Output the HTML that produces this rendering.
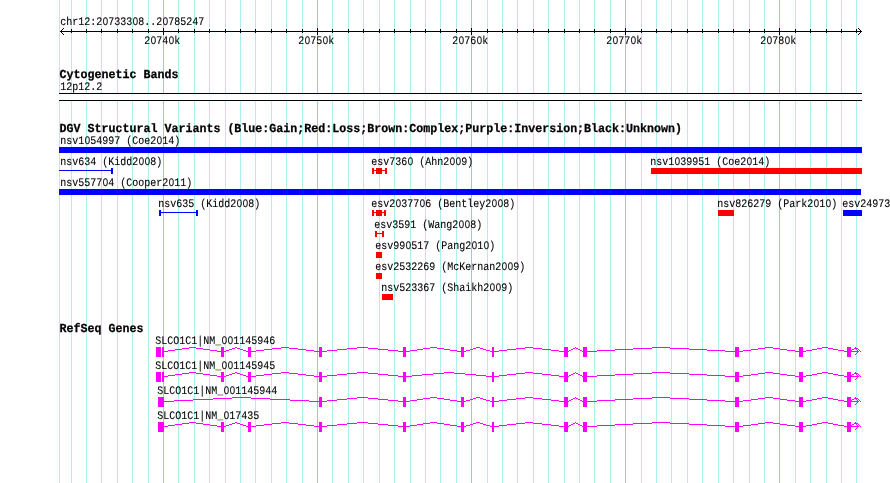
<!DOCTYPE html>
<html><head><meta charset="utf-8"><title>chr12:20733308..20785247</title>
<style>
html,body{margin:0;padding:0;background:#fff;}
body{width:890px;height:483px;overflow:hidden;position:relative;}
svg{position:absolute;left:0;top:0;}
#txt{position:absolute;left:0;top:0;width:890px;height:483px;overflow:hidden;will-change:transform;}
.t{position:absolute;white-space:pre;color:#000;height:20px;line-height:20px;transform-origin:0 12.4px;}
.r{font-family:"Liberation Mono",monospace;font-size:10px;letter-spacing:0px;transform:scale(1,1.15);text-rendering:geometricPrecision;-webkit-text-stroke:0.1px #000;}
.z{font-family:"Liberation Sans",sans-serif;font-size:9.6px;line-height:0;letter-spacing:0;padding:0 0.330px;}
.b{font-family:"Liberation Mono",monospace;font-weight:bold;font-size:11.667px;letter-spacing:0px;transform:scale(1,1.05);text-rendering:geometricPrecision;-webkit-text-stroke:0.25px #000;}
</style></head><body>
<svg width="890" height="483" viewBox="0 0 890 483" shape-rendering="crispEdges">
<rect x="59" y="0" width="1" height="483" fill="#AFEEEE"/>
<rect x="71" y="0" width="1" height="483" fill="#AFEEEE"/>
<rect x="86" y="0" width="1" height="483" fill="#AFEEEE"/>
<rect x="101" y="0" width="1" height="483" fill="#AFEEEE"/>
<rect x="117" y="0" width="1" height="483" fill="#AFEEEE"/>
<rect x="132" y="0" width="1" height="483" fill="#AFEEEE"/>
<rect x="148" y="0" width="1" height="483" fill="#AFEEEE"/>
<rect x="163" y="0" width="1" height="483" fill="#87CEEB"/>
<rect x="178" y="0" width="1" height="483" fill="#AFEEEE"/>
<rect x="194" y="0" width="1" height="483" fill="#AFEEEE"/>
<rect x="209" y="0" width="1" height="483" fill="#AFEEEE"/>
<rect x="225" y="0" width="1" height="483" fill="#AFEEEE"/>
<rect x="240" y="0" width="1" height="483" fill="#AFEEEE"/>
<rect x="255" y="0" width="1" height="483" fill="#AFEEEE"/>
<rect x="271" y="0" width="1" height="483" fill="#AFEEEE"/>
<rect x="286" y="0" width="1" height="483" fill="#AFEEEE"/>
<rect x="302" y="0" width="1" height="483" fill="#AFEEEE"/>
<rect x="317" y="0" width="1" height="483" fill="#87CEEB"/>
<rect x="332" y="0" width="1" height="483" fill="#AFEEEE"/>
<rect x="348" y="0" width="1" height="483" fill="#AFEEEE"/>
<rect x="363" y="0" width="1" height="483" fill="#AFEEEE"/>
<rect x="379" y="0" width="1" height="483" fill="#AFEEEE"/>
<rect x="394" y="0" width="1" height="483" fill="#AFEEEE"/>
<rect x="410" y="0" width="1" height="483" fill="#AFEEEE"/>
<rect x="425" y="0" width="1" height="483" fill="#AFEEEE"/>
<rect x="440" y="0" width="1" height="483" fill="#AFEEEE"/>
<rect x="456" y="0" width="1" height="483" fill="#AFEEEE"/>
<rect x="471" y="0" width="1" height="483" fill="#87CEEB"/>
<rect x="487" y="0" width="1" height="483" fill="#AFEEEE"/>
<rect x="502" y="0" width="1" height="483" fill="#AFEEEE"/>
<rect x="517" y="0" width="1" height="483" fill="#AFEEEE"/>
<rect x="533" y="0" width="1" height="483" fill="#AFEEEE"/>
<rect x="548" y="0" width="1" height="483" fill="#AFEEEE"/>
<rect x="564" y="0" width="1" height="483" fill="#AFEEEE"/>
<rect x="579" y="0" width="1" height="483" fill="#AFEEEE"/>
<rect x="594" y="0" width="1" height="483" fill="#AFEEEE"/>
<rect x="610" y="0" width="1" height="483" fill="#AFEEEE"/>
<rect x="625" y="0" width="1" height="483" fill="#87CEEB"/>
<rect x="641" y="0" width="1" height="483" fill="#AFEEEE"/>
<rect x="656" y="0" width="1" height="483" fill="#AFEEEE"/>
<rect x="671" y="0" width="1" height="483" fill="#AFEEEE"/>
<rect x="687" y="0" width="1" height="483" fill="#AFEEEE"/>
<rect x="702" y="0" width="1" height="483" fill="#AFEEEE"/>
<rect x="718" y="0" width="1" height="483" fill="#AFEEEE"/>
<rect x="733" y="0" width="1" height="483" fill="#AFEEEE"/>
<rect x="749" y="0" width="1" height="483" fill="#AFEEEE"/>
<rect x="764" y="0" width="1" height="483" fill="#AFEEEE"/>
<rect x="779" y="0" width="1" height="483" fill="#87CEEB"/>
<rect x="795" y="0" width="1" height="483" fill="#AFEEEE"/>
<rect x="810" y="0" width="1" height="483" fill="#AFEEEE"/>
<rect x="826" y="0" width="1" height="483" fill="#AFEEEE"/>
<rect x="841" y="0" width="1" height="483" fill="#AFEEEE"/>
<rect x="856" y="0" width="1" height="483" fill="#AFEEEE"/>
<rect x="60" y="31" width="802" height="1" fill="#000"/>
<rect x="71" y="29" width="1" height="4" fill="#000"/>
<rect x="86" y="29" width="1" height="4" fill="#000"/>
<rect x="101" y="29" width="1" height="4" fill="#000"/>
<rect x="117" y="29" width="1" height="4" fill="#000"/>
<rect x="132" y="29" width="1" height="4" fill="#000"/>
<rect x="148" y="29" width="1" height="4" fill="#000"/>
<rect x="163" y="28" width="1" height="7" fill="#000"/>
<rect x="178" y="29" width="1" height="4" fill="#000"/>
<rect x="194" y="29" width="1" height="4" fill="#000"/>
<rect x="209" y="29" width="1" height="4" fill="#000"/>
<rect x="225" y="29" width="1" height="4" fill="#000"/>
<rect x="240" y="29" width="1" height="4" fill="#000"/>
<rect x="255" y="29" width="1" height="4" fill="#000"/>
<rect x="271" y="29" width="1" height="4" fill="#000"/>
<rect x="286" y="29" width="1" height="4" fill="#000"/>
<rect x="302" y="29" width="1" height="4" fill="#000"/>
<rect x="317" y="28" width="1" height="7" fill="#000"/>
<rect x="332" y="29" width="1" height="4" fill="#000"/>
<rect x="348" y="29" width="1" height="4" fill="#000"/>
<rect x="363" y="29" width="1" height="4" fill="#000"/>
<rect x="379" y="29" width="1" height="4" fill="#000"/>
<rect x="394" y="29" width="1" height="4" fill="#000"/>
<rect x="410" y="29" width="1" height="4" fill="#000"/>
<rect x="425" y="29" width="1" height="4" fill="#000"/>
<rect x="440" y="29" width="1" height="4" fill="#000"/>
<rect x="456" y="29" width="1" height="4" fill="#000"/>
<rect x="471" y="28" width="1" height="7" fill="#000"/>
<rect x="487" y="29" width="1" height="4" fill="#000"/>
<rect x="502" y="29" width="1" height="4" fill="#000"/>
<rect x="517" y="29" width="1" height="4" fill="#000"/>
<rect x="533" y="29" width="1" height="4" fill="#000"/>
<rect x="548" y="29" width="1" height="4" fill="#000"/>
<rect x="564" y="29" width="1" height="4" fill="#000"/>
<rect x="579" y="29" width="1" height="4" fill="#000"/>
<rect x="594" y="29" width="1" height="4" fill="#000"/>
<rect x="610" y="29" width="1" height="4" fill="#000"/>
<rect x="625" y="28" width="1" height="7" fill="#000"/>
<rect x="641" y="29" width="1" height="4" fill="#000"/>
<rect x="656" y="29" width="1" height="4" fill="#000"/>
<rect x="671" y="29" width="1" height="4" fill="#000"/>
<rect x="687" y="29" width="1" height="4" fill="#000"/>
<rect x="702" y="29" width="1" height="4" fill="#000"/>
<rect x="718" y="29" width="1" height="4" fill="#000"/>
<rect x="733" y="29" width="1" height="4" fill="#000"/>
<rect x="749" y="29" width="1" height="4" fill="#000"/>
<rect x="764" y="29" width="1" height="4" fill="#000"/>
<rect x="779" y="28" width="1" height="7" fill="#000"/>
<rect x="795" y="29" width="1" height="4" fill="#000"/>
<rect x="810" y="29" width="1" height="4" fill="#000"/>
<rect x="826" y="29" width="1" height="4" fill="#000"/>
<rect x="841" y="29" width="1" height="4" fill="#000"/>
<rect x="856" y="29" width="1" height="4" fill="#000"/>
<rect x="61" y="30" width="1" height="1" fill="#000"/>
<rect x="61" y="32" width="1" height="1" fill="#000"/>
<rect x="860" y="30" width="1" height="1" fill="#000"/>
<rect x="860" y="32" width="1" height="1" fill="#000"/>
<rect x="62" y="29" width="1" height="1" fill="#000"/>
<rect x="62" y="33" width="1" height="1" fill="#000"/>
<rect x="859" y="29" width="1" height="1" fill="#000"/>
<rect x="859" y="33" width="1" height="1" fill="#000"/>
<rect x="63" y="28" width="1" height="1" fill="#000"/>
<rect x="63" y="34" width="1" height="1" fill="#000"/>
<rect x="858" y="28" width="1" height="1" fill="#000"/>
<rect x="858" y="34" width="1" height="1" fill="#000"/>
<rect x="59" y="93" width="803" height="8" fill="#fff"/>
<rect x="59" y="93" width="803" height="1" fill="#000"/>
<rect x="59" y="100" width="803" height="1" fill="#000"/>
<rect x="59" y="147" width="803" height="6" fill="#0000FF"/>
<rect x="59" y="189" width="802" height="6" fill="#0000FF"/>
<rect x="59" y="170" width="54" height="1" fill="#0000FF"/>
<rect x="111" y="168" width="2" height="6" fill="#0000FF"/>
<rect x="159" y="212" width="39" height="1" fill="#0000FF"/>
<rect x="159" y="210" width="2" height="6" fill="#0000FF"/>
<rect x="196" y="210" width="2" height="6" fill="#0000FF"/>
<rect x="372" y="170" width="15" height="1" fill="#FF0000"/>
<rect x="372" y="168" width="2" height="6" fill="#FF0000"/>
<rect x="376" y="168" width="6" height="6" fill="#FF0000"/>
<rect x="385" y="168" width="2" height="6" fill="#FF0000"/>
<rect x="651" y="168" width="211" height="6" fill="#FF0000"/>
<rect x="372" y="212" width="14" height="1" fill="#FF0000"/>
<rect x="372" y="210" width="2" height="6" fill="#FF0000"/>
<rect x="376" y="210" width="6" height="6" fill="#FF0000"/>
<rect x="384" y="210" width="2" height="6" fill="#FF0000"/>
<rect x="718" y="210" width="16" height="6" fill="#FF0000"/>
<rect x="843" y="210" width="19" height="6" fill="#0000FF"/>
<rect x="375" y="233" width="9" height="1" fill="#FF0000"/>
<rect x="375" y="231" width="2" height="6" fill="#FF0000"/>
<rect x="382" y="231" width="2" height="6" fill="#FF0000"/>
<rect x="376" y="252" width="6" height="6" fill="#FF0000"/>
<rect x="376" y="273" width="6" height="6" fill="#FF0000"/>
<rect x="382" y="294" width="11" height="6" fill="#FF0000"/>
<rect x="156" y="347" width="5" height="10" fill="#FF00FF"/>
<rect x="162" y="347" width="2" height="10" fill="#FF00FF"/>
<rect x="164" y="351" width="4" height="1" fill="#FF00FF"/>
<rect x="168" y="350" width="7" height="1" fill="#FF00FF"/>
<rect x="175" y="349" width="7" height="1" fill="#FF00FF"/>
<rect x="182" y="348" width="7" height="1" fill="#FF00FF"/>
<rect x="189" y="347" width="7" height="1" fill="#FF00FF"/>
<rect x="196" y="348" width="7" height="1" fill="#FF00FF"/>
<rect x="203" y="349" width="7" height="1" fill="#FF00FF"/>
<rect x="210" y="350" width="7" height="1" fill="#FF00FF"/>
<rect x="217" y="351" width="4" height="1" fill="#FF00FF"/>
<rect x="221" y="347" width="3" height="10" fill="#FF00FF"/>
<rect x="224" y="351" width="2" height="1" fill="#FF00FF"/>
<rect x="226" y="350" width="3" height="1" fill="#FF00FF"/>
<rect x="229" y="349" width="3" height="1" fill="#FF00FF"/>
<rect x="232" y="348" width="3" height="1" fill="#FF00FF"/>
<rect x="235" y="347" width="2" height="1" fill="#FF00FF"/>
<rect x="237" y="348" width="3" height="1" fill="#FF00FF"/>
<rect x="240" y="349" width="3" height="1" fill="#FF00FF"/>
<rect x="243" y="350" width="3" height="1" fill="#FF00FF"/>
<rect x="246" y="351" width="2" height="1" fill="#FF00FF"/>
<rect x="248" y="347" width="3" height="10" fill="#FF00FF"/>
<rect x="251" y="351" width="5" height="1" fill="#FF00FF"/>
<rect x="256" y="350" width="8" height="1" fill="#FF00FF"/>
<rect x="264" y="349" width="8" height="1" fill="#FF00FF"/>
<rect x="272" y="348" width="9" height="1" fill="#FF00FF"/>
<rect x="281" y="347" width="8" height="1" fill="#FF00FF"/>
<rect x="289" y="348" width="9" height="1" fill="#FF00FF"/>
<rect x="298" y="349" width="8" height="1" fill="#FF00FF"/>
<rect x="306" y="350" width="8" height="1" fill="#FF00FF"/>
<rect x="314" y="351" width="5" height="1" fill="#FF00FF"/>
<rect x="319" y="347" width="3" height="10" fill="#FF00FF"/>
<rect x="322" y="351" width="5" height="1" fill="#FF00FF"/>
<rect x="327" y="350" width="10" height="1" fill="#FF00FF"/>
<rect x="337" y="349" width="10" height="1" fill="#FF00FF"/>
<rect x="347" y="348" width="10" height="1" fill="#FF00FF"/>
<rect x="357" y="347" width="11" height="1" fill="#FF00FF"/>
<rect x="368" y="348" width="10" height="1" fill="#FF00FF"/>
<rect x="378" y="349" width="10" height="1" fill="#FF00FF"/>
<rect x="388" y="350" width="10" height="1" fill="#FF00FF"/>
<rect x="398" y="351" width="5" height="1" fill="#FF00FF"/>
<rect x="403" y="347" width="3" height="10" fill="#FF00FF"/>
<rect x="406" y="351" width="4" height="1" fill="#FF00FF"/>
<rect x="410" y="350" width="7" height="1" fill="#FF00FF"/>
<rect x="417" y="349" width="6" height="1" fill="#FF00FF"/>
<rect x="423" y="348" width="7" height="1" fill="#FF00FF"/>
<rect x="430" y="347" width="7" height="1" fill="#FF00FF"/>
<rect x="437" y="348" width="7" height="1" fill="#FF00FF"/>
<rect x="444" y="349" width="6" height="1" fill="#FF00FF"/>
<rect x="450" y="350" width="7" height="1" fill="#FF00FF"/>
<rect x="457" y="351" width="4" height="1" fill="#FF00FF"/>
<rect x="461" y="347" width="3" height="10" fill="#FF00FF"/>
<rect x="464" y="351" width="2" height="1" fill="#FF00FF"/>
<rect x="466" y="350" width="4" height="1" fill="#FF00FF"/>
<rect x="470" y="349" width="3" height="1" fill="#FF00FF"/>
<rect x="473" y="348" width="3" height="1" fill="#FF00FF"/>
<rect x="476" y="347" width="4" height="1" fill="#FF00FF"/>
<rect x="480" y="348" width="3" height="1" fill="#FF00FF"/>
<rect x="483" y="349" width="3" height="1" fill="#FF00FF"/>
<rect x="486" y="350" width="4" height="1" fill="#FF00FF"/>
<rect x="490" y="351" width="2" height="1" fill="#FF00FF"/>
<rect x="492" y="347" width="2" height="10" fill="#FF00FF"/>
<rect x="494" y="351" width="5" height="1" fill="#FF00FF"/>
<rect x="499" y="350" width="8" height="1" fill="#FF00FF"/>
<rect x="507" y="349" width="9" height="1" fill="#FF00FF"/>
<rect x="516" y="348" width="9" height="1" fill="#FF00FF"/>
<rect x="525" y="347" width="8" height="1" fill="#FF00FF"/>
<rect x="533" y="348" width="9" height="1" fill="#FF00FF"/>
<rect x="542" y="349" width="9" height="1" fill="#FF00FF"/>
<rect x="551" y="350" width="8" height="1" fill="#FF00FF"/>
<rect x="559" y="351" width="5" height="1" fill="#FF00FF"/>
<rect x="564" y="347" width="4" height="10" fill="#FF00FF"/>
<rect x="568" y="351" width="1" height="1" fill="#FF00FF"/>
<rect x="569" y="350" width="2" height="1" fill="#FF00FF"/>
<rect x="571" y="349" width="2" height="1" fill="#FF00FF"/>
<rect x="573" y="348" width="2" height="1" fill="#FF00FF"/>
<rect x="575" y="347" width="1" height="1" fill="#FF00FF"/>
<rect x="576" y="348" width="2" height="1" fill="#FF00FF"/>
<rect x="578" y="349" width="2" height="1" fill="#FF00FF"/>
<rect x="580" y="350" width="2" height="1" fill="#FF00FF"/>
<rect x="582" y="351" width="1" height="1" fill="#FF00FF"/>
<rect x="583" y="347" width="4" height="10" fill="#FF00FF"/>
<rect x="587" y="351" width="10" height="1" fill="#FF00FF"/>
<rect x="597" y="350" width="18" height="1" fill="#FF00FF"/>
<rect x="615" y="349" width="18" height="1" fill="#FF00FF"/>
<rect x="633" y="348" width="19" height="1" fill="#FF00FF"/>
<rect x="652" y="347" width="18" height="1" fill="#FF00FF"/>
<rect x="670" y="348" width="19" height="1" fill="#FF00FF"/>
<rect x="689" y="349" width="18" height="1" fill="#FF00FF"/>
<rect x="707" y="350" width="18" height="1" fill="#FF00FF"/>
<rect x="725" y="351" width="10" height="1" fill="#FF00FF"/>
<rect x="735" y="347" width="4" height="10" fill="#FF00FF"/>
<rect x="739" y="351" width="4" height="1" fill="#FF00FF"/>
<rect x="743" y="350" width="8" height="1" fill="#FF00FF"/>
<rect x="751" y="349" width="7" height="1" fill="#FF00FF"/>
<rect x="758" y="348" width="7" height="1" fill="#FF00FF"/>
<rect x="765" y="347" width="8" height="1" fill="#FF00FF"/>
<rect x="773" y="348" width="7" height="1" fill="#FF00FF"/>
<rect x="780" y="349" width="7" height="1" fill="#FF00FF"/>
<rect x="787" y="350" width="8" height="1" fill="#FF00FF"/>
<rect x="795" y="351" width="4" height="1" fill="#FF00FF"/>
<rect x="799" y="347" width="4" height="10" fill="#FF00FF"/>
<rect x="803" y="351" width="3" height="1" fill="#FF00FF"/>
<rect x="806" y="350" width="6" height="1" fill="#FF00FF"/>
<rect x="812" y="349" width="5" height="1" fill="#FF00FF"/>
<rect x="817" y="348" width="5" height="1" fill="#FF00FF"/>
<rect x="822" y="347" width="6" height="1" fill="#FF00FF"/>
<rect x="828" y="348" width="5" height="1" fill="#FF00FF"/>
<rect x="833" y="349" width="5" height="1" fill="#FF00FF"/>
<rect x="838" y="350" width="6" height="1" fill="#FF00FF"/>
<rect x="844" y="351" width="3" height="1" fill="#FF00FF"/>
<rect x="847" y="347" width="4" height="10" fill="#FF00FF"/>
<rect x="851" y="351" width="8" height="1" fill="#FF00FF"/>
<rect x="857" y="350" width="1" height="1" fill="#FF00FF"/>
<rect x="857" y="352" width="1" height="1" fill="#FF00FF"/>
<rect x="856" y="349" width="1" height="1" fill="#FF00FF"/>
<rect x="856" y="353" width="1" height="1" fill="#FF00FF"/>
<rect x="855" y="348" width="1" height="1" fill="#FF00FF"/>
<rect x="855" y="354" width="1" height="1" fill="#FF00FF"/>
<rect x="851" y="350" width="1" height="1" fill="#FF00FF"/>
<rect x="852" y="349" width="1" height="1" fill="#FF00FF"/>
<rect x="853" y="349" width="1" height="1" fill="#FF00FF"/>
<rect x="854" y="348" width="1" height="1" fill="#FF00FF"/>
<rect x="855" y="347" width="1" height="1" fill="#FF00FF"/>
<rect x="856" y="348" width="1" height="1" fill="#FF00FF"/>
<rect x="857" y="348" width="1" height="1" fill="#FF00FF"/>
<rect x="858" y="349" width="1" height="1" fill="#FF00FF"/>
<rect x="859" y="350" width="1" height="1" fill="#FF00FF"/>
<rect x="860" y="351" width="1" height="1" fill="#FF00FF"/>
<rect x="156" y="372" width="5" height="10" fill="#FF00FF"/>
<rect x="162" y="372" width="2" height="10" fill="#FF00FF"/>
<rect x="164" y="376" width="4" height="1" fill="#FF00FF"/>
<rect x="168" y="375" width="7" height="1" fill="#FF00FF"/>
<rect x="175" y="374" width="7" height="1" fill="#FF00FF"/>
<rect x="182" y="373" width="7" height="1" fill="#FF00FF"/>
<rect x="189" y="372" width="7" height="1" fill="#FF00FF"/>
<rect x="196" y="373" width="7" height="1" fill="#FF00FF"/>
<rect x="203" y="374" width="7" height="1" fill="#FF00FF"/>
<rect x="210" y="375" width="7" height="1" fill="#FF00FF"/>
<rect x="217" y="376" width="4" height="1" fill="#FF00FF"/>
<rect x="221" y="372" width="3" height="10" fill="#FF00FF"/>
<rect x="224" y="376" width="2" height="1" fill="#FF00FF"/>
<rect x="226" y="375" width="3" height="1" fill="#FF00FF"/>
<rect x="229" y="374" width="3" height="1" fill="#FF00FF"/>
<rect x="232" y="373" width="3" height="1" fill="#FF00FF"/>
<rect x="235" y="372" width="2" height="1" fill="#FF00FF"/>
<rect x="237" y="373" width="3" height="1" fill="#FF00FF"/>
<rect x="240" y="374" width="3" height="1" fill="#FF00FF"/>
<rect x="243" y="375" width="3" height="1" fill="#FF00FF"/>
<rect x="246" y="376" width="2" height="1" fill="#FF00FF"/>
<rect x="248" y="372" width="3" height="10" fill="#FF00FF"/>
<rect x="251" y="376" width="5" height="1" fill="#FF00FF"/>
<rect x="256" y="375" width="8" height="1" fill="#FF00FF"/>
<rect x="264" y="374" width="8" height="1" fill="#FF00FF"/>
<rect x="272" y="373" width="9" height="1" fill="#FF00FF"/>
<rect x="281" y="372" width="8" height="1" fill="#FF00FF"/>
<rect x="289" y="373" width="9" height="1" fill="#FF00FF"/>
<rect x="298" y="374" width="8" height="1" fill="#FF00FF"/>
<rect x="306" y="375" width="8" height="1" fill="#FF00FF"/>
<rect x="314" y="376" width="5" height="1" fill="#FF00FF"/>
<rect x="319" y="372" width="3" height="10" fill="#FF00FF"/>
<rect x="322" y="376" width="5" height="1" fill="#FF00FF"/>
<rect x="327" y="375" width="10" height="1" fill="#FF00FF"/>
<rect x="337" y="374" width="10" height="1" fill="#FF00FF"/>
<rect x="347" y="373" width="10" height="1" fill="#FF00FF"/>
<rect x="357" y="372" width="11" height="1" fill="#FF00FF"/>
<rect x="368" y="373" width="10" height="1" fill="#FF00FF"/>
<rect x="378" y="374" width="10" height="1" fill="#FF00FF"/>
<rect x="388" y="375" width="10" height="1" fill="#FF00FF"/>
<rect x="398" y="376" width="5" height="1" fill="#FF00FF"/>
<rect x="403" y="372" width="3" height="10" fill="#FF00FF"/>
<rect x="406" y="376" width="6" height="1" fill="#FF00FF"/>
<rect x="412" y="375" width="10" height="1" fill="#FF00FF"/>
<rect x="422" y="374" width="11" height="1" fill="#FF00FF"/>
<rect x="433" y="373" width="11" height="1" fill="#FF00FF"/>
<rect x="444" y="372" width="10" height="1" fill="#FF00FF"/>
<rect x="454" y="373" width="11" height="1" fill="#FF00FF"/>
<rect x="465" y="374" width="11" height="1" fill="#FF00FF"/>
<rect x="476" y="375" width="10" height="1" fill="#FF00FF"/>
<rect x="486" y="376" width="6" height="1" fill="#FF00FF"/>
<rect x="492" y="372" width="2" height="10" fill="#FF00FF"/>
<rect x="494" y="376" width="5" height="1" fill="#FF00FF"/>
<rect x="499" y="375" width="8" height="1" fill="#FF00FF"/>
<rect x="507" y="374" width="9" height="1" fill="#FF00FF"/>
<rect x="516" y="373" width="9" height="1" fill="#FF00FF"/>
<rect x="525" y="372" width="8" height="1" fill="#FF00FF"/>
<rect x="533" y="373" width="9" height="1" fill="#FF00FF"/>
<rect x="542" y="374" width="9" height="1" fill="#FF00FF"/>
<rect x="551" y="375" width="8" height="1" fill="#FF00FF"/>
<rect x="559" y="376" width="5" height="1" fill="#FF00FF"/>
<rect x="564" y="372" width="4" height="10" fill="#FF00FF"/>
<rect x="568" y="376" width="1" height="1" fill="#FF00FF"/>
<rect x="569" y="375" width="2" height="1" fill="#FF00FF"/>
<rect x="571" y="374" width="2" height="1" fill="#FF00FF"/>
<rect x="573" y="373" width="2" height="1" fill="#FF00FF"/>
<rect x="575" y="372" width="1" height="1" fill="#FF00FF"/>
<rect x="576" y="373" width="2" height="1" fill="#FF00FF"/>
<rect x="578" y="374" width="2" height="1" fill="#FF00FF"/>
<rect x="580" y="375" width="2" height="1" fill="#FF00FF"/>
<rect x="582" y="376" width="1" height="1" fill="#FF00FF"/>
<rect x="583" y="372" width="4" height="10" fill="#FF00FF"/>
<rect x="587" y="376" width="10" height="1" fill="#FF00FF"/>
<rect x="597" y="375" width="18" height="1" fill="#FF00FF"/>
<rect x="615" y="374" width="18" height="1" fill="#FF00FF"/>
<rect x="633" y="373" width="19" height="1" fill="#FF00FF"/>
<rect x="652" y="372" width="18" height="1" fill="#FF00FF"/>
<rect x="670" y="373" width="19" height="1" fill="#FF00FF"/>
<rect x="689" y="374" width="18" height="1" fill="#FF00FF"/>
<rect x="707" y="375" width="18" height="1" fill="#FF00FF"/>
<rect x="725" y="376" width="10" height="1" fill="#FF00FF"/>
<rect x="735" y="372" width="4" height="10" fill="#FF00FF"/>
<rect x="739" y="376" width="4" height="1" fill="#FF00FF"/>
<rect x="743" y="375" width="8" height="1" fill="#FF00FF"/>
<rect x="751" y="374" width="7" height="1" fill="#FF00FF"/>
<rect x="758" y="373" width="7" height="1" fill="#FF00FF"/>
<rect x="765" y="372" width="8" height="1" fill="#FF00FF"/>
<rect x="773" y="373" width="7" height="1" fill="#FF00FF"/>
<rect x="780" y="374" width="7" height="1" fill="#FF00FF"/>
<rect x="787" y="375" width="8" height="1" fill="#FF00FF"/>
<rect x="795" y="376" width="4" height="1" fill="#FF00FF"/>
<rect x="799" y="372" width="4" height="10" fill="#FF00FF"/>
<rect x="803" y="376" width="3" height="1" fill="#FF00FF"/>
<rect x="806" y="375" width="6" height="1" fill="#FF00FF"/>
<rect x="812" y="374" width="5" height="1" fill="#FF00FF"/>
<rect x="817" y="373" width="5" height="1" fill="#FF00FF"/>
<rect x="822" y="372" width="6" height="1" fill="#FF00FF"/>
<rect x="828" y="373" width="5" height="1" fill="#FF00FF"/>
<rect x="833" y="374" width="5" height="1" fill="#FF00FF"/>
<rect x="838" y="375" width="6" height="1" fill="#FF00FF"/>
<rect x="844" y="376" width="3" height="1" fill="#FF00FF"/>
<rect x="847" y="372" width="4" height="10" fill="#FF00FF"/>
<rect x="851" y="376" width="8" height="1" fill="#FF00FF"/>
<rect x="857" y="375" width="1" height="1" fill="#FF00FF"/>
<rect x="857" y="377" width="1" height="1" fill="#FF00FF"/>
<rect x="856" y="374" width="1" height="1" fill="#FF00FF"/>
<rect x="856" y="378" width="1" height="1" fill="#FF00FF"/>
<rect x="855" y="373" width="1" height="1" fill="#FF00FF"/>
<rect x="855" y="379" width="1" height="1" fill="#FF00FF"/>
<rect x="851" y="375" width="1" height="1" fill="#FF00FF"/>
<rect x="852" y="374" width="1" height="1" fill="#FF00FF"/>
<rect x="853" y="374" width="1" height="1" fill="#FF00FF"/>
<rect x="854" y="373" width="1" height="1" fill="#FF00FF"/>
<rect x="855" y="372" width="1" height="1" fill="#FF00FF"/>
<rect x="856" y="373" width="1" height="1" fill="#FF00FF"/>
<rect x="857" y="373" width="1" height="1" fill="#FF00FF"/>
<rect x="858" y="374" width="1" height="1" fill="#FF00FF"/>
<rect x="859" y="375" width="1" height="1" fill="#FF00FF"/>
<rect x="860" y="376" width="1" height="1" fill="#FF00FF"/>
<rect x="158" y="397" width="6" height="10" fill="#FF00FF"/>
<rect x="164" y="401" width="10" height="1" fill="#FF00FF"/>
<rect x="174" y="400" width="19" height="1" fill="#FF00FF"/>
<rect x="193" y="399" width="20" height="1" fill="#FF00FF"/>
<rect x="213" y="398" width="19" height="1" fill="#FF00FF"/>
<rect x="232" y="397" width="19" height="1" fill="#FF00FF"/>
<rect x="251" y="398" width="19" height="1" fill="#FF00FF"/>
<rect x="270" y="399" width="20" height="1" fill="#FF00FF"/>
<rect x="290" y="400" width="19" height="1" fill="#FF00FF"/>
<rect x="309" y="401" width="10" height="1" fill="#FF00FF"/>
<rect x="319" y="397" width="3" height="10" fill="#FF00FF"/>
<rect x="322" y="401" width="5" height="1" fill="#FF00FF"/>
<rect x="327" y="400" width="10" height="1" fill="#FF00FF"/>
<rect x="337" y="399" width="10" height="1" fill="#FF00FF"/>
<rect x="347" y="398" width="10" height="1" fill="#FF00FF"/>
<rect x="357" y="397" width="11" height="1" fill="#FF00FF"/>
<rect x="368" y="398" width="10" height="1" fill="#FF00FF"/>
<rect x="378" y="399" width="10" height="1" fill="#FF00FF"/>
<rect x="388" y="400" width="10" height="1" fill="#FF00FF"/>
<rect x="398" y="401" width="5" height="1" fill="#FF00FF"/>
<rect x="403" y="397" width="3" height="10" fill="#FF00FF"/>
<rect x="406" y="401" width="4" height="1" fill="#FF00FF"/>
<rect x="410" y="400" width="7" height="1" fill="#FF00FF"/>
<rect x="417" y="399" width="6" height="1" fill="#FF00FF"/>
<rect x="423" y="398" width="7" height="1" fill="#FF00FF"/>
<rect x="430" y="397" width="7" height="1" fill="#FF00FF"/>
<rect x="437" y="398" width="7" height="1" fill="#FF00FF"/>
<rect x="444" y="399" width="6" height="1" fill="#FF00FF"/>
<rect x="450" y="400" width="7" height="1" fill="#FF00FF"/>
<rect x="457" y="401" width="4" height="1" fill="#FF00FF"/>
<rect x="461" y="397" width="3" height="10" fill="#FF00FF"/>
<rect x="464" y="401" width="2" height="1" fill="#FF00FF"/>
<rect x="466" y="400" width="4" height="1" fill="#FF00FF"/>
<rect x="470" y="399" width="3" height="1" fill="#FF00FF"/>
<rect x="473" y="398" width="3" height="1" fill="#FF00FF"/>
<rect x="476" y="397" width="4" height="1" fill="#FF00FF"/>
<rect x="480" y="398" width="3" height="1" fill="#FF00FF"/>
<rect x="483" y="399" width="3" height="1" fill="#FF00FF"/>
<rect x="486" y="400" width="4" height="1" fill="#FF00FF"/>
<rect x="490" y="401" width="2" height="1" fill="#FF00FF"/>
<rect x="492" y="397" width="2" height="10" fill="#FF00FF"/>
<rect x="494" y="401" width="5" height="1" fill="#FF00FF"/>
<rect x="499" y="400" width="8" height="1" fill="#FF00FF"/>
<rect x="507" y="399" width="9" height="1" fill="#FF00FF"/>
<rect x="516" y="398" width="9" height="1" fill="#FF00FF"/>
<rect x="525" y="397" width="8" height="1" fill="#FF00FF"/>
<rect x="533" y="398" width="9" height="1" fill="#FF00FF"/>
<rect x="542" y="399" width="9" height="1" fill="#FF00FF"/>
<rect x="551" y="400" width="8" height="1" fill="#FF00FF"/>
<rect x="559" y="401" width="5" height="1" fill="#FF00FF"/>
<rect x="564" y="397" width="4" height="10" fill="#FF00FF"/>
<rect x="568" y="401" width="1" height="1" fill="#FF00FF"/>
<rect x="569" y="400" width="2" height="1" fill="#FF00FF"/>
<rect x="571" y="399" width="2" height="1" fill="#FF00FF"/>
<rect x="573" y="398" width="2" height="1" fill="#FF00FF"/>
<rect x="575" y="397" width="1" height="1" fill="#FF00FF"/>
<rect x="576" y="398" width="2" height="1" fill="#FF00FF"/>
<rect x="578" y="399" width="2" height="1" fill="#FF00FF"/>
<rect x="580" y="400" width="2" height="1" fill="#FF00FF"/>
<rect x="582" y="401" width="1" height="1" fill="#FF00FF"/>
<rect x="583" y="397" width="4" height="10" fill="#FF00FF"/>
<rect x="587" y="401" width="10" height="1" fill="#FF00FF"/>
<rect x="597" y="400" width="18" height="1" fill="#FF00FF"/>
<rect x="615" y="399" width="18" height="1" fill="#FF00FF"/>
<rect x="633" y="398" width="19" height="1" fill="#FF00FF"/>
<rect x="652" y="397" width="18" height="1" fill="#FF00FF"/>
<rect x="670" y="398" width="19" height="1" fill="#FF00FF"/>
<rect x="689" y="399" width="18" height="1" fill="#FF00FF"/>
<rect x="707" y="400" width="18" height="1" fill="#FF00FF"/>
<rect x="725" y="401" width="10" height="1" fill="#FF00FF"/>
<rect x="735" y="397" width="4" height="10" fill="#FF00FF"/>
<rect x="739" y="401" width="4" height="1" fill="#FF00FF"/>
<rect x="743" y="400" width="8" height="1" fill="#FF00FF"/>
<rect x="751" y="399" width="7" height="1" fill="#FF00FF"/>
<rect x="758" y="398" width="7" height="1" fill="#FF00FF"/>
<rect x="765" y="397" width="8" height="1" fill="#FF00FF"/>
<rect x="773" y="398" width="7" height="1" fill="#FF00FF"/>
<rect x="780" y="399" width="7" height="1" fill="#FF00FF"/>
<rect x="787" y="400" width="8" height="1" fill="#FF00FF"/>
<rect x="795" y="401" width="4" height="1" fill="#FF00FF"/>
<rect x="799" y="397" width="4" height="10" fill="#FF00FF"/>
<rect x="803" y="401" width="3" height="1" fill="#FF00FF"/>
<rect x="806" y="400" width="6" height="1" fill="#FF00FF"/>
<rect x="812" y="399" width="5" height="1" fill="#FF00FF"/>
<rect x="817" y="398" width="5" height="1" fill="#FF00FF"/>
<rect x="822" y="397" width="6" height="1" fill="#FF00FF"/>
<rect x="828" y="398" width="5" height="1" fill="#FF00FF"/>
<rect x="833" y="399" width="5" height="1" fill="#FF00FF"/>
<rect x="838" y="400" width="6" height="1" fill="#FF00FF"/>
<rect x="844" y="401" width="3" height="1" fill="#FF00FF"/>
<rect x="847" y="397" width="4" height="10" fill="#FF00FF"/>
<rect x="851" y="401" width="8" height="1" fill="#FF00FF"/>
<rect x="857" y="400" width="1" height="1" fill="#FF00FF"/>
<rect x="857" y="402" width="1" height="1" fill="#FF00FF"/>
<rect x="856" y="399" width="1" height="1" fill="#FF00FF"/>
<rect x="856" y="403" width="1" height="1" fill="#FF00FF"/>
<rect x="855" y="398" width="1" height="1" fill="#FF00FF"/>
<rect x="855" y="404" width="1" height="1" fill="#FF00FF"/>
<rect x="851" y="400" width="1" height="1" fill="#FF00FF"/>
<rect x="852" y="399" width="1" height="1" fill="#FF00FF"/>
<rect x="853" y="399" width="1" height="1" fill="#FF00FF"/>
<rect x="854" y="398" width="1" height="1" fill="#FF00FF"/>
<rect x="855" y="397" width="1" height="1" fill="#FF00FF"/>
<rect x="856" y="398" width="1" height="1" fill="#FF00FF"/>
<rect x="857" y="398" width="1" height="1" fill="#FF00FF"/>
<rect x="858" y="399" width="1" height="1" fill="#FF00FF"/>
<rect x="859" y="400" width="1" height="1" fill="#FF00FF"/>
<rect x="860" y="401" width="1" height="1" fill="#FF00FF"/>
<rect x="158" y="422" width="6" height="10" fill="#FF00FF"/>
<rect x="164" y="426" width="4" height="1" fill="#FF00FF"/>
<rect x="168" y="425" width="7" height="1" fill="#FF00FF"/>
<rect x="175" y="424" width="7" height="1" fill="#FF00FF"/>
<rect x="182" y="423" width="7" height="1" fill="#FF00FF"/>
<rect x="189" y="422" width="7" height="1" fill="#FF00FF"/>
<rect x="196" y="423" width="7" height="1" fill="#FF00FF"/>
<rect x="203" y="424" width="7" height="1" fill="#FF00FF"/>
<rect x="210" y="425" width="7" height="1" fill="#FF00FF"/>
<rect x="217" y="426" width="4" height="1" fill="#FF00FF"/>
<rect x="221" y="422" width="3" height="10" fill="#FF00FF"/>
<rect x="224" y="426" width="2" height="1" fill="#FF00FF"/>
<rect x="226" y="425" width="3" height="1" fill="#FF00FF"/>
<rect x="229" y="424" width="3" height="1" fill="#FF00FF"/>
<rect x="232" y="423" width="3" height="1" fill="#FF00FF"/>
<rect x="235" y="422" width="2" height="1" fill="#FF00FF"/>
<rect x="237" y="423" width="3" height="1" fill="#FF00FF"/>
<rect x="240" y="424" width="3" height="1" fill="#FF00FF"/>
<rect x="243" y="425" width="3" height="1" fill="#FF00FF"/>
<rect x="246" y="426" width="2" height="1" fill="#FF00FF"/>
<rect x="248" y="422" width="3" height="10" fill="#FF00FF"/>
<rect x="251" y="426" width="5" height="1" fill="#FF00FF"/>
<rect x="256" y="425" width="8" height="1" fill="#FF00FF"/>
<rect x="264" y="424" width="8" height="1" fill="#FF00FF"/>
<rect x="272" y="423" width="9" height="1" fill="#FF00FF"/>
<rect x="281" y="422" width="8" height="1" fill="#FF00FF"/>
<rect x="289" y="423" width="9" height="1" fill="#FF00FF"/>
<rect x="298" y="424" width="8" height="1" fill="#FF00FF"/>
<rect x="306" y="425" width="8" height="1" fill="#FF00FF"/>
<rect x="314" y="426" width="5" height="1" fill="#FF00FF"/>
<rect x="319" y="422" width="3" height="10" fill="#FF00FF"/>
<rect x="322" y="426" width="5" height="1" fill="#FF00FF"/>
<rect x="327" y="425" width="10" height="1" fill="#FF00FF"/>
<rect x="337" y="424" width="10" height="1" fill="#FF00FF"/>
<rect x="347" y="423" width="10" height="1" fill="#FF00FF"/>
<rect x="357" y="422" width="11" height="1" fill="#FF00FF"/>
<rect x="368" y="423" width="10" height="1" fill="#FF00FF"/>
<rect x="378" y="424" width="10" height="1" fill="#FF00FF"/>
<rect x="388" y="425" width="10" height="1" fill="#FF00FF"/>
<rect x="398" y="426" width="5" height="1" fill="#FF00FF"/>
<rect x="403" y="422" width="3" height="10" fill="#FF00FF"/>
<rect x="406" y="426" width="4" height="1" fill="#FF00FF"/>
<rect x="410" y="425" width="7" height="1" fill="#FF00FF"/>
<rect x="417" y="424" width="6" height="1" fill="#FF00FF"/>
<rect x="423" y="423" width="7" height="1" fill="#FF00FF"/>
<rect x="430" y="422" width="7" height="1" fill="#FF00FF"/>
<rect x="437" y="423" width="7" height="1" fill="#FF00FF"/>
<rect x="444" y="424" width="6" height="1" fill="#FF00FF"/>
<rect x="450" y="425" width="7" height="1" fill="#FF00FF"/>
<rect x="457" y="426" width="4" height="1" fill="#FF00FF"/>
<rect x="461" y="422" width="3" height="10" fill="#FF00FF"/>
<rect x="464" y="426" width="2" height="1" fill="#FF00FF"/>
<rect x="466" y="425" width="4" height="1" fill="#FF00FF"/>
<rect x="470" y="424" width="3" height="1" fill="#FF00FF"/>
<rect x="473" y="423" width="3" height="1" fill="#FF00FF"/>
<rect x="476" y="422" width="4" height="1" fill="#FF00FF"/>
<rect x="480" y="423" width="3" height="1" fill="#FF00FF"/>
<rect x="483" y="424" width="3" height="1" fill="#FF00FF"/>
<rect x="486" y="425" width="4" height="1" fill="#FF00FF"/>
<rect x="490" y="426" width="2" height="1" fill="#FF00FF"/>
<rect x="492" y="422" width="2" height="10" fill="#FF00FF"/>
<rect x="494" y="426" width="5" height="1" fill="#FF00FF"/>
<rect x="499" y="425" width="8" height="1" fill="#FF00FF"/>
<rect x="507" y="424" width="9" height="1" fill="#FF00FF"/>
<rect x="516" y="423" width="9" height="1" fill="#FF00FF"/>
<rect x="525" y="422" width="8" height="1" fill="#FF00FF"/>
<rect x="533" y="423" width="9" height="1" fill="#FF00FF"/>
<rect x="542" y="424" width="9" height="1" fill="#FF00FF"/>
<rect x="551" y="425" width="8" height="1" fill="#FF00FF"/>
<rect x="559" y="426" width="5" height="1" fill="#FF00FF"/>
<rect x="564" y="422" width="4" height="10" fill="#FF00FF"/>
<rect x="568" y="426" width="1" height="1" fill="#FF00FF"/>
<rect x="569" y="425" width="2" height="1" fill="#FF00FF"/>
<rect x="571" y="424" width="2" height="1" fill="#FF00FF"/>
<rect x="573" y="423" width="2" height="1" fill="#FF00FF"/>
<rect x="575" y="422" width="1" height="1" fill="#FF00FF"/>
<rect x="576" y="423" width="2" height="1" fill="#FF00FF"/>
<rect x="578" y="424" width="2" height="1" fill="#FF00FF"/>
<rect x="580" y="425" width="2" height="1" fill="#FF00FF"/>
<rect x="582" y="426" width="1" height="1" fill="#FF00FF"/>
<rect x="583" y="422" width="4" height="10" fill="#FF00FF"/>
<rect x="587" y="426" width="10" height="1" fill="#FF00FF"/>
<rect x="597" y="425" width="18" height="1" fill="#FF00FF"/>
<rect x="615" y="424" width="18" height="1" fill="#FF00FF"/>
<rect x="633" y="423" width="19" height="1" fill="#FF00FF"/>
<rect x="652" y="422" width="18" height="1" fill="#FF00FF"/>
<rect x="670" y="423" width="19" height="1" fill="#FF00FF"/>
<rect x="689" y="424" width="18" height="1" fill="#FF00FF"/>
<rect x="707" y="425" width="18" height="1" fill="#FF00FF"/>
<rect x="725" y="426" width="10" height="1" fill="#FF00FF"/>
<rect x="735" y="422" width="4" height="10" fill="#FF00FF"/>
<rect x="739" y="426" width="4" height="1" fill="#FF00FF"/>
<rect x="743" y="425" width="8" height="1" fill="#FF00FF"/>
<rect x="751" y="424" width="7" height="1" fill="#FF00FF"/>
<rect x="758" y="423" width="7" height="1" fill="#FF00FF"/>
<rect x="765" y="422" width="8" height="1" fill="#FF00FF"/>
<rect x="773" y="423" width="7" height="1" fill="#FF00FF"/>
<rect x="780" y="424" width="7" height="1" fill="#FF00FF"/>
<rect x="787" y="425" width="8" height="1" fill="#FF00FF"/>
<rect x="795" y="426" width="4" height="1" fill="#FF00FF"/>
<rect x="799" y="422" width="4" height="10" fill="#FF00FF"/>
<rect x="803" y="426" width="3" height="1" fill="#FF00FF"/>
<rect x="806" y="425" width="6" height="1" fill="#FF00FF"/>
<rect x="812" y="424" width="5" height="1" fill="#FF00FF"/>
<rect x="817" y="423" width="5" height="1" fill="#FF00FF"/>
<rect x="822" y="422" width="6" height="1" fill="#FF00FF"/>
<rect x="828" y="423" width="5" height="1" fill="#FF00FF"/>
<rect x="833" y="424" width="5" height="1" fill="#FF00FF"/>
<rect x="838" y="425" width="6" height="1" fill="#FF00FF"/>
<rect x="844" y="426" width="3" height="1" fill="#FF00FF"/>
<rect x="847" y="422" width="4" height="10" fill="#FF00FF"/>
<rect x="851" y="426" width="8" height="1" fill="#FF00FF"/>
<rect x="857" y="425" width="1" height="1" fill="#FF00FF"/>
<rect x="857" y="427" width="1" height="1" fill="#FF00FF"/>
<rect x="856" y="424" width="1" height="1" fill="#FF00FF"/>
<rect x="856" y="428" width="1" height="1" fill="#FF00FF"/>
<rect x="855" y="423" width="1" height="1" fill="#FF00FF"/>
<rect x="855" y="429" width="1" height="1" fill="#FF00FF"/>
<rect x="851" y="425" width="1" height="1" fill="#FF00FF"/>
<rect x="852" y="424" width="1" height="1" fill="#FF00FF"/>
<rect x="853" y="424" width="1" height="1" fill="#FF00FF"/>
<rect x="854" y="423" width="1" height="1" fill="#FF00FF"/>
<rect x="855" y="422" width="1" height="1" fill="#FF00FF"/>
<rect x="856" y="423" width="1" height="1" fill="#FF00FF"/>
<rect x="857" y="423" width="1" height="1" fill="#FF00FF"/>
<rect x="858" y="424" width="1" height="1" fill="#FF00FF"/>
<rect x="859" y="425" width="1" height="1" fill="#FF00FF"/>
<rect x="860" y="426" width="1" height="1" fill="#FF00FF"/>
</svg>
<div id="txt">
<div class="t r" style="left:60.3px;top:13.9px">chr12:2<span class="z">0</span>7333<span class="z">0</span>8..2<span class="z">0</span>785247</div>
<div class="t r" style="left:144.3px;top:32.9px">2<span class="z">0</span>74<span class="z">0</span>k</div>
<div class="t r" style="left:298.3px;top:32.9px">2<span class="z">0</span>75<span class="z">0</span>k</div>
<div class="t r" style="left:452.3px;top:32.9px">2<span class="z">0</span>76<span class="z">0</span>k</div>
<div class="t r" style="left:606.3px;top:32.9px">2<span class="z">0</span>77<span class="z">0</span>k</div>
<div class="t r" style="left:760.3px;top:32.9px">2<span class="z">0</span>78<span class="z">0</span>k</div>
<div class="t b" style="left:59.5px;top:65.4px">Cytogenetic Bands</div>
<div class="t r" style="left:60.3px;top:78.9px">12p12.2</div>
<div class="t b" style="left:59.5px;top:119.4px">DGV Structural Variants (Blue:Gain;Red:Loss;Brown:Complex;Purple:Inversion;Black:Unknown)</div>
<div class="t r" style="left:60.3px;top:132.9px">nsv1<span class="z">0</span>54997 (Coe2<span class="z">0</span>14)</div>
<div class="t r" style="left:60.3px;top:153.9px">nsv634 (Kidd2<span class="z">0</span><span class="z">0</span>8)</div>
<div class="t r" style="left:371.3px;top:153.9px">esv736<span class="z">0</span> (Ahn2<span class="z">0</span><span class="z">0</span>9)</div>
<div class="t r" style="left:650.3px;top:153.9px">nsv1<span class="z">0</span>39951 (Coe2<span class="z">0</span>14)</div>
<div class="t r" style="left:60.3px;top:174.9px">nsv5577<span class="z">0</span>4 (Cooper2<span class="z">0</span>11)</div>
<div class="t r" style="left:158.3px;top:195.9px">nsv635 (Kidd2<span class="z">0</span><span class="z">0</span>8)</div>
<div class="t r" style="left:371.3px;top:195.9px">esv2<span class="z">0</span>377<span class="z">0</span>6 (Bentley2<span class="z">0</span><span class="z">0</span>8)</div>
<div class="t r" style="left:717.3px;top:195.9px">nsv826279 (Park2<span class="z">0</span>1<span class="z">0</span>)</div>
<div class="t r" style="left:842.3px;top:195.9px">esv24973</div>
<div class="t r" style="left:374.3px;top:216.9px">esv3591 (Wang2<span class="z">0</span><span class="z">0</span>8)</div>
<div class="t r" style="left:375.3px;top:237.9px">esv99<span class="z">0</span>517 (Pang2<span class="z">0</span>1<span class="z">0</span>)</div>
<div class="t r" style="left:375.3px;top:258.9px">esv2532269 (McKernan2<span class="z">0</span><span class="z">0</span>9)</div>
<div class="t r" style="left:381.3px;top:279.9px">nsv523367 (Shaikh2<span class="z">0</span><span class="z">0</span>9)</div>
<div class="t b" style="left:59.5px;top:319.4px">RefSeq Genes</div>
<div class="t r" style="left:155.3px;top:332.9px">SLCO1C1|NM_<span class="z">0</span><span class="z">0</span>1145946</div>
<div class="t r" style="left:155.3px;top:357.9px">SLCO1C1|NM_<span class="z">0</span><span class="z">0</span>1145945</div>
<div class="t r" style="left:157.3px;top:382.9px">SLCO1C1|NM_<span class="z">0</span><span class="z">0</span>1145944</div>
<div class="t r" style="left:157.3px;top:407.9px">SLCO1C1|NM_<span class="z">0</span>17435</div>
</div>
</body></html>
